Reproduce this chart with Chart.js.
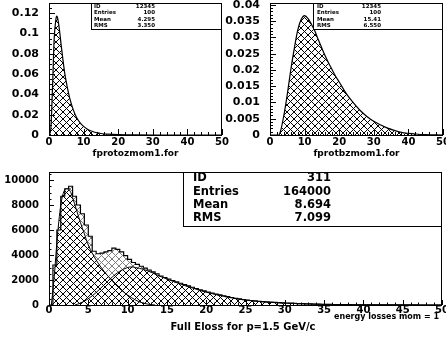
<!DOCTYPE html>
<html><head><meta charset="utf-8">
<script src="https://cdn.jsdelivr.net/npm/chart.js@4.4.1/dist/chart.umd.min.js"></script>
<style>
html,body{margin:0;padding:0;background:#fff;}
#wrap{position:relative;width:446px;height:339px;overflow:hidden;background:#fff;}
canvas{position:absolute;left:0;top:0;}
</style></head><body>
<div id="wrap">
<canvas id="c1" width="446" height="339"></canvas>
<canvas id="c2" width="446" height="339"></canvas>
<canvas id="c3" width="446" height="339"></canvas>
</div>
<script>
// ---------- data ----------
// top-left: fprotozmom1.for
const tlX = [0,0.5,1,1.5,2,2.2,2.5,3,3.5,4,4.5,5,6,7,8,9,10,11,12,13,14,15,17,20,25,30,40,50];
const tlY = [0,0.005,0.045,0.095,0.114,0.117,0.115,0.104,0.089,0.075,0.062,0.052,0.036,0.025,0.017,0.012,0.0085,0.006,0.0042,0.003,0.0021,0.0015,0.0008,0.0003,0.0001,0,0,0];
// top-right: fprotbzmom1.for
const trX = [0,2.5,3,4,5,6,7,8,9,10,11,12,13,14,15,16,17,18,19,20,22,24,26,28,30,32,34,36,38,40,42,45,50];
const trY = [0,0,0.001,0.006,0.0125,0.020,0.0265,0.0322,0.0355,0.0367,0.0358,0.0340,0.0319,0.0292,0.0267,0.0242,0.0220,0.0200,0.0180,0.0163,0.0128,0.0100,0.0076,0.0057,0.0042,0.0031,0.0021,0.0014,0.0008,0.0005,0.0003,0.0001,0];
// bottom: histogram 311 (100 bins, 0..50)
const histMin = 0, histBinWidth = 0.5;
const histCounts = [0,3200,6000,8700,9300,9500,8700,8000,7300,6400,
  5500,4300,4100,4150,4250,4350,4550,4450,4250,3950,
  3650,3400,3250,3100,2950,2800,2650,2500,2320,2200,
  2080,1960,1850,1740,1630,1530,1420,1320,1220,1130,
  1040,960,880,810,740,670,600,540,490,440,
  400,360,330,300,270,245,225,205,190,175,
  160,145,130,118,106,95,85,76,68,60,
  53,47,41,36,32,28,25,22,19,17,
  15,13,11,10,9,8,7,6,5,5,
  4,4,3,3,2,2,2,1,1,1];
// bottom: component curves
const aX = [0.3,0.7,1,1.5,2,2.3,2.7,3,3.5,4,4.5,5,6,7,7.8,9,10,11,12,13,13.5];
const aY = [0,2500,5000,8000,9200,9300,9100,8600,7600,6600,5700,4800,3600,2700,2100,1300,800,400,150,30,0];
const bX = [3.3,4,5,6,7,7.8,9,10,10.5,11,12,13,14,15,16,17,18,19,20,22,24,26,28,30,32,35,40,45,50];
const bY = [0,150,500,1000,1600,2100,2700,3000,3050,3000,2850,2620,2330,2080,1840,1620,1410,1210,1030,730,480,320,215,150,100,50,15,4,0];
// tick values
const topXTicks = [0,10,20,30,40,50];
const tlYTicks = [0,0.02,0.04,0.06,0.08,0.1,0.12];
const trYTicks = [0,0.005,0.01,0.015,0.02,0.025,0.03,0.035,0.04];
const bXTicks = [0,5,10,15,20,25,30,35,40,45,50];
const bYTicks = [0,2000,4000,6000,8000,10000];
// stats boxes
const statLabels = ['ID','Entries','Mean','RMS'];
const statsTL = ['12345','100','4.295','3.350'];
const statsTR = ['12345','100','15.41','6.550'];
const statsB  = ['311','164000','8.694','7.099'];
// titles
const titleTL = 'fprotozmom1.for';
const titleTR = 'fprotbzmom1.for';
const titleB = 'Full Eloss for p=1.5 GeV/c';
const titleB2 = 'energy losses mom = 1';

// ---------- helpers ----------
Chart.defaults.font.family = 'DejaVu Sans';
Chart.defaults.color = '#000';
const FONT = 'DejaVu Sans';

function hatch(color, size) {
  const c = document.createElement('canvas');
  c.width = size; c.height = size;
  const g = c.getContext('2d');
  g.strokeStyle = color; g.lineWidth = 1;
  g.beginPath();
  g.moveTo(-1,-1); g.lineTo(size+1,size+1);
  g.moveTo(-1,size+1); g.lineTo(size+1,-1);
  g.stroke();
  return g.createPattern(c, 'repeat');
}
const pts = (xs, ys) => xs.map((x,i)=>({x, y: ys[i]}));
function histPoints() {
  const p = histCounts.map((v,i)=>({x: histMin + i*histBinWidth, y: v}));
  p.push({x: histMin + histCounts.length*histBinWidth, y: 0});
  return p;
}
const fmt = v => String(parseFloat(Number(v).toFixed(6)));

const pawPlugin = {
  id: 'paw',
  afterDraw(chart, args, o) {
    const {ctx, chartArea: a, scales: {x, y}} = chart;
    ctx.save();
    ctx.strokeStyle = '#000'; ctx.lineWidth = 1;
    ctx.beginPath();
    for (let k = 0; ; k++) {
      const v = x.min + k*o.xMinor; if (v > x.max + 1e-9) break;
      const maj = Math.abs(v/o.xMajor - Math.round(v/o.xMajor)) < 1e-6;
      const px = Math.round(x.getPixelForValue(v)) + 0.5;
      ctx.moveTo(px, a.bottom); ctx.lineTo(px, a.bottom - (maj ? o.majLen : o.minLen));
    }
    for (let k = 0; ; k++) {
      const v = y.min + k*o.yMinor; if (v > y.max + 1e-12) break;
      const maj = Math.abs(v/o.yMajor - Math.round(v/o.yMajor)) < 1e-6;
      const py = Math.round(y.getPixelForValue(v)) + 0.5;
      ctx.moveTo(a.left, py); ctx.lineTo(a.left + (maj ? o.majLen : o.minLen), py);
    }
    ctx.stroke();
    ctx.strokeRect(a.left + 0.5, a.top + 0.5, a.right - a.left - 1, a.bottom - a.top);
    // stats box
    const b = o.box;
    ctx.fillStyle = '#fff';
    ctx.fillRect(b.l, b.t, b.r - b.l, b.b - b.t);
    ctx.lineWidth = 1;
    ctx.strokeRect(b.l + 0.5, b.t + 0.5, b.r - b.l - 1, b.b - b.t);
    ctx.fillStyle = '#000';
    ctx.font = 'bold ' + b.fs + 'px "' + FONT + '"';
    ctx.textBaseline = 'middle';
    statLabels.forEach((s, i) => {
      const yy = b.t + b.row0 + i*b.dy;
      ctx.textAlign = 'left'; ctx.fillText(s, b.l + b.lx, yy);
      ctx.textAlign = 'right'; ctx.fillText(b.vals[i], b.l + b.vx, yy);
    });
    // titles
    o.titles.forEach(t => {
      ctx.font = 'bold ' + t.fs + 'px "' + FONT + '"';
      ctx.textAlign = t.align; ctx.textBaseline = 'middle';
      ctx.fillText(t.text, t.x, t.y);
    });
    ctx.restore();
  }
};

function makeChart(id, cfg) {
  new Chart(document.getElementById(id), {
    type: 'line',
    data: {datasets: cfg.datasets},
    options: {
      responsive: false, animation: false, devicePixelRatio: 1,
      layout: {padding: cfg.pad, autoPadding: false},
      plugins: {legend: {display: false}, tooltip: {enabled: false}, paw: cfg.paw},
      elements: {point: {radius: 0}},
      scales: {
        x: {type: 'linear', min: 0, max: 50,
          afterBuildTicks: s => { s.ticks = cfg.xTicks.map(v => ({value: v})); },
          ticks: {autoSkip: false, maxRotation: 0,
            padding: cfg.xpad, font: {family: FONT, weight: 'bold', size: 10}, color: '#000', callback: fmt},
          grid: {display: false, drawTicks: false}, border: {display: false},
          afterFit: s => { s.height = 30; s.paddingLeft = 0; s.paddingRight = 0; }},
        y: {type: 'linear', min: 0, max: cfg.yMax,
          afterBuildTicks: s => { s.ticks = cfg.yTicks.map(v => ({value: v})); },
          ticks: {autoSkip: false, padding: 10,
            font: {family: FONT, weight: 'bold', size: cfg.yfs}, color: '#000', callback: fmt},
          grid: {display: false, drawTicks: false}, border: {display: false},
          afterFit: s => { s.width = 49; s.paddingTop = 0; s.paddingBottom = 0; }}
      }
    },
    plugins: [pawPlugin]
  });
}

const blackHatch = hatch('#000', 7);
const grayHatch = hatch('#808080', 7);

makeChart('c1', {
  pad: {left: 0, top: 3, right: 224, bottom: 174}, xTicks: topXTicks, yTicks: tlYTicks, yMax: 0.13, yfs: 11, xpad: 1,
  datasets: [{data: pts(tlX, tlY), borderColor: '#000', borderWidth: 1.2, cubicInterpolationMode: 'monotone',
    fill: 'origin', backgroundColor: blackHatch}],
  paw: {xMajor: 10, xMinor: 2, yMajor: 0.02, yMinor: 0.005, majLen: 6, minLen: 3,
    box: {l: 91, t: 3, r: 222, b: 29, fs: 5.5, row0: 3.8, dy: 6.2, lx: 3, vx: 64, vals: statsTL},
    titles: [{text: titleTL, x: 135.5, y: 154, fs: 9, align: 'center'}]}
});
makeChart('c2', {
  pad: {left: 221, top: 3, right: 3, bottom: 174}, xTicks: topXTicks, yTicks: trYTicks, yMax: 0.0406, yfs: 11, xpad: 1,
  datasets: [{data: pts(trX, trY), borderColor: '#000', borderWidth: 1.2, cubicInterpolationMode: 'monotone',
    fill: 'origin', backgroundColor: blackHatch}],
  paw: {xMajor: 10, xMinor: 2, yMajor: 0.005, yMinor: 0.001, majLen: 6, minLen: 3,
    box: {l: 313, t: 3, r: 443, b: 29, fs: 5.5, row0: 3.8, dy: 6.2, lx: 4, vx: 68, vals: statsTR},
    titles: [{text: titleTR, x: 356.5, y: 154, fs: 9, align: 'center'}]}
});
makeChart('c3', {
  pad: {left: 0, top: 172, right: 4, bottom: 4}, xTicks: bXTicks, yTicks: bYTicks, yMax: 10640, yfs: 10, xpad: -1,
  datasets: [
    {data: pts(aX, aY), borderColor: '#000', borderWidth: 1, cubicInterpolationMode: 'monotone',
      fill: 'origin', backgroundColor: blackHatch},
    {data: pts(bX, bY), borderColor: '#000', borderWidth: 1, cubicInterpolationMode: 'monotone',
      fill: 'origin', backgroundColor: blackHatch},
    {data: histPoints(), stepped: true, borderColor: '#000', borderWidth: 1.2,
      fill: 'origin', backgroundColor: grayHatch}
  ],
  paw: {xMajor: 5, xMinor: 1, yMajor: 2000, yMinor: 500, majLen: 5, minLen: 2.5,
    box: {l: 183, t: 172, r: 442, b: 226, fs: 11.5, row0: 6.5, dy: 13.3, lx: 10, vx: 148, vals: statsB},
    titles: [{text: titleB, x: 243, y: 327, fs: 10, align: 'center'},
             {text: titleB2, x: 439, y: 316.5, fs: 8, align: 'right'}]}
});
</script>
</body></html>
